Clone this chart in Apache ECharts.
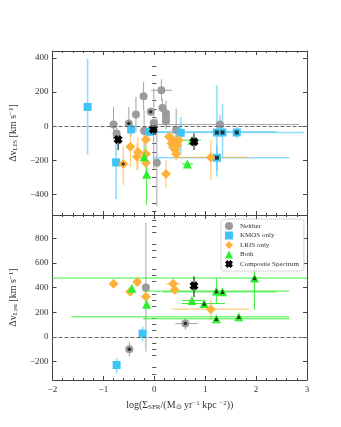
<!DOCTYPE html>
<html>
<head>
<meta charset="utf-8">
<script src="https://cdn.jsdelivr.net/npm/echarts@6/dist/echarts.min.js"></script>
<style>
  html, body { margin: 0; padding: 0; background: #fff; }
  #chart { width: 341px; height: 427px; }
</style>
</head>
<body>
<div id="chart"></div>
<script>
// rows: [x, y, xLow, xHigh, yLow, yHigh, innerMark]
const lisNeither = [
  [-0.80, 10, -0.80, -0.80, -82, 113, 0],
  [-0.74, -43, -0.74, -0.74, -80, -10, 0],
  [-0.50, 16, -0.50, -0.50, -43, 113, 1],
  [-0.36, 68, -0.36, -0.36, -33, 171, 0],
  [-0.21, 175, -0.21, -0.21, 93, 258, 0],
  [-0.20, -27, -0.20, -0.20, -120, 93, 0],
  [-0.07, 84, -0.07, -0.07, 60, 110, 1],
  [-0.01, 19, -0.01, -0.01, -250, 221, 0],
  [0.05, -214, 0.05, 0.05, -470, 45, 0],
  [0.14, 210, -0.06, 0.35, 151, 274, 0],
  [0.16, 107, 0.16, 0.16, 60, 160, 0],
  [0.23, 74, 0.23, 0.23, 20, 150, 0],
  [0.23, 50, 0.23, 0.23, 0, 100, 0],
  [0.23, 29, 0.23, 0.23, -20, 80, 0],
  [0.43, -23, 0.43, 0.43, -120, 103, 0],
  [1.29, 10, 0.0, 2.85, -43, 64, 0]
]
const lisKmos = [
  [-1.31, 113, -1.31, -1.31, -165, 395, 0],
  [-0.75, -212, -0.75, -0.75, -427, -33, 0],
  [-0.455, -19, -0.455, -0.455, -60, 20, 0],
  [-0.10, -33, -0.12, 2.40, -60, -5, 0],
  [0.52, -39, 0.52, 0.52, -159, 54, 0],
  [1.23, -37, -0.05, 2.94, -295, 239, 1],
  [1.34, -37, 1.34, 1.34, -179, 128, 1],
  [1.62, -37, 1.62, 1.62, -70, -5, 1],
  [1.23, -185, -0.03, 2.65, -260, -110, 1]
]
const lisLris = [
  [-0.61, -221, -0.61, -0.61, -344, -120, 1],
  [-0.47, -120, -0.47, -0.47, -237, -4, 0],
  [-0.32, -151, -0.32, -0.32, -250, -60, 0],
  [-0.34, -179, -0.34, -0.34, -260, -100, 0],
  [-0.165, -78, -0.165, -0.165, -180, 0, 0],
  [-0.165, -163, -0.165, -0.165, -230, -100, 0],
  [-0.165, -214, -0.165, -0.165, -280, -150, 0],
  [0.23, -280, 0.23, 0.23, -363, -198, 0],
  [0.29, -62, 0.20, 0.38, -100, -30, 0],
  [0.35, -78, 0.28, 0.42, -120, -40, 0],
  [0.415, -91, 0.35, 0.48, -130, -50, 0],
  [0.34, -101, 0.27, 0.41, -140, -60, 0],
  [0.37, -124, 0.30, 0.44, -160, -90, 0],
  [0.415, -140, 0.35, 0.48, -180, -100, 0],
  [0.45, -111, 0.38, 0.52, -150, -70, 0],
  [0.48, -82, 0.41, 0.55, -120, -40, 0],
  [0.43, -163, 0.36, 0.50, -200, -130, 0],
  [1.11, -183, 0.35, 1.86, -315, -82, 0]
]
const lisBoth = [
  [-0.20, -179, -0.20, -0.20, -230, -120, 0],
  [-0.15, -282, -0.15, -0.15, -460, -150, 0],
  [0.65, -221, 0.54, 0.76, -240, -200, 0],
  [0.74, -82, 0.54, 0.92, -82, -82, 0]
]
const lisComp = [
  [-0.71, -78, -0.71, -0.71, -140, -23, 0],
  [-0.02, -19, -0.10, 0.06, -50, 10, 0],
  [0.78, -91, 0.70, 0.86, -140, -43, 0]
]

const lyaNeither = [
  [-0.165, 402, -0.165, -0.165, -119, 925, 0],
  [-0.49, -100, -0.49, -0.49, -160, -38, 1],
  [0.61, 108, 0.415, 0.856, 57, 152, 1]
]
const lyaKmos = [
  [-0.23, 27, -0.23, -0.23, -38, 84, 0],
  [-0.74, -228, -0.74, -0.74, -296, -174, 0]
]
const lyaLris = [
  [-0.80, 432, -0.80, -0.80, 432, 432, 0],
  [-0.335, 445, -0.335, -0.335, 445, 445, 0],
  [-0.475, 366, -0.475, -0.475, 366, 366, 0],
  [-0.165, 326, -0.165, -0.165, 326, 326, 0],
  [0.37, 432, 0.23, 0.51, 432, 432, 0],
  [0.40, 383, 0.40, 0.40, 383, 383, 0],
  [1.11, 225, 0.35, 1.865, 138, 301, 0]
]
const lyaBoth = [
  [-0.44, 396, -0.44, -0.44, 396, 396, 0],
  [-0.15, 266, -0.15, -0.15, 266, 266, 0],
  [0.74, 296, 0.54, 0.98, 296, 296, 0],
  [0.98, 271, 0.54, 1.39, 271, 271, 1],
  [1.22, 372, -0.22, 2.65, 274, 478, 1],
  [1.34, 366, 0.16, 2.40, 366, 366, 1],
  [1.22, 147, -0.22, 2.65, 147, 147, 1],
  [1.66, 163, -1.63, 2.65, 163, 163, 1],
  [1.97, 478, -3, 4, 220, 600, 1]
]
const lyaComp = [
  [0.78, 415, 0.78, 0.78, 323, 491, 0]
]

const xTicks = [-2, -1, 0, 1, 2, 3]
const lisTicks = [-400, -200, 0, 200, 400]
const lisMinor = [-500, -450, -350, -300, -250, -150, -100, -50, 50, 100, 150, 250, 300, 350]
const lyaTicks = [-200, 0, 200, 400, 600, 800]
const lyaMinor = [-350, -300, -250, -150, -100, -50, 50, 100, 150, 250, 300, 350, 450, 500, 550, 650, 700, 750, 850, 900, 950]

const FONT = 'Liberation Serif'
const AXIS_COLOR = '#444'
const XSHAPE = 'path://M0,3L3,0L5,2L7,0L10,3L8,5L10,7L7,10L5,8L3,10L0,7L2,5Z'

const groups = {
  Neither: { symbol: 'circle', size: 8, color: '#9b9b9b', err: '#a3a3a3', errWidth: 1, inner: 3.5 },
  'KMOS only': { symbol: 'rect', size: 8, color: '#3fc5f5', err: 'rgba(70,200,245,0.6)', errWidth: 1.6, inner: 4 },
  'LRIS only': { symbol: 'diamond', size: 10, color: '#ffb23a', err: 'rgba(255,170,40,0.6)', errWidth: 1.2, inner: 4 },
  Both: { symbol: 'triangle', size: 9, color: '#2ef02e', err: '#3cee3c', errWidth: 1, inner: 4.5 },
  'Composite Spectrum': { symbol: XSHAPE, size: 9, color: '#000', err: '#000', errWidth: 1, inner: 0 }
}

function fmt(v) {
  return v < 0 ? '\u2212' + Math.abs(v) : String(v)
}

function errBars(color, width) {
  return function(params, api) {
    const cs = params.coordSys
    const cx = v => Math.max(cs.x, Math.min(cs.x + cs.width, v))
    const cy = v => Math.max(cs.y, Math.min(cs.y + cs.height, v))
    const p = api.coord([api.value(0), api.value(1)])
    const children = []
    const style = { stroke: color, lineWidth: width, fill: null }
    if (api.value(3) > api.value(2)) {
      const a = api.coord([api.value(2), api.value(1)])
      const b = api.coord([api.value(3), api.value(1)])
      children.push({ type: 'line', shape: { x1: cx(a[0]), y1: p[1], x2: cx(b[0]), y2: p[1] }, style })
    }
    if (api.value(5) > api.value(4)) {
      const c = api.coord([api.value(0), api.value(4)])
      const d = api.coord([api.value(0), api.value(5)])
      children.push({ type: 'line', shape: { x1: p[0], y1: cy(c[1]), x2: p[0], y2: cy(d[1]) }, style })
    }
    return { type: 'group', children }
  }
}

const series = []
function addGroup(name, rows, panel) {
  const g = groups[name]
  const xi = panel * 2
  const yi = panel * 4
  series.push({
    name: name + ' err',
    type: 'custom',
    xAxisIndex: xi,
    yAxisIndex: yi,
    z: 1,
    silent: true,
    renderItem: errBars(g.err, g.errWidth),
    data: rows
  })
  series.push({
    name,
    type: 'scatter',
    xAxisIndex: xi,
    yAxisIndex: yi,
    z: 3,
    symbol: g.symbol,
    symbolSize: g.size,
    itemStyle: { color: g.color, opacity: 1 },
    data: rows.map(r => [r[0], r[1]])
  })
  const flagged = rows.filter(r => r[6] === 1).map(r => [r[0], r[1]])
  if (flagged.length) {
    series.push({
      name: name + ' inner',
      type: 'scatter',
      xAxisIndex: xi,
      yAxisIndex: yi,
      z: 4,
      symbol: g.symbol,
      symbolSize: g.inner,
      itemStyle: { color: '#111' },
      data: flagged
    })
  }
}

addGroup('Neither', lisNeither, 0)
addGroup('KMOS only', lisKmos, 0)
addGroup('LRIS only', lisLris, 0)
addGroup('Both', lisBoth, 0)
addGroup('Composite Spectrum', lisComp, 0)
addGroup('Neither', lyaNeither, 1)
addGroup('KMOS only', lyaKmos, 1)
addGroup('LRIS only', lyaLris, 1)
addGroup('Both', lyaBoth, 1)
addGroup('Composite Spectrum', lyaComp, 1)

// dashed zero lines
;[0, 1].forEach(panel => {
  series.push({
    type: 'line',
    xAxisIndex: panel * 2,
    yAxisIndex: panel * 4,
    data: [],
    z: 2,
    markLine: {
      silent: true,
      symbol: 'none',
      label: { show: false },
      lineStyle: { color: '#666', width: 1, type: [4, 2] },
      data: [{ yAxis: 0 }]
    }
  })
})

const rich = {
  a: { fontFamily: FONT, fontSize: 10, color: '#333' },
  s: { fontFamily: FONT, fontSize: 7, color: '#333', verticalAlign: 'bottom', padding: [4, 0, 0, 0] },
  p: { fontFamily: FONT, fontSize: 7, color: '#333', verticalAlign: 'top', padding: [0, 0, 4, 0] }
}

function xAxes(grid, showLabels) {
  const common = {
    type: 'value',
    gridIndex: grid,
    min: -2,
    max: 3,
    interval: 1,
    splitLine: { show: false },
    axisLine: { show: true, onZero: false, lineStyle: { color: AXIS_COLOR, width: 1 } },
    axisTick: { inside: true, length: 4, lineStyle: { color: AXIS_COLOR } },
    minorTick: { show: true, splitNumber: 5, length: 2, lineStyle: { color: AXIS_COLOR } }
  }
  return [
    Object.assign({}, common, {
      position: 'bottom',
      axisLabel: {
        show: showLabels,
        customValues: xTicks,
        formatter: fmt,
        fontFamily: FONT,
        fontSize: 9,
        color: '#333',
        margin: 5
      },
      name: showLabels ? '{a|log(\u03A3}{s|SFR}{a|/(M}{s|\u2299}{a| yr}{p|\u22121}{a| kpc }{p|\u22122}{a|))}' : '',
      nameLocation: 'middle',
      nameGap: 20,
      nameTextStyle: { rich }
    }),
    Object.assign({}, common, { position: 'top', axisLabel: { show: false } })
  ]
}

function yAxes(grid, min, max, major, minor, name) {
  const line = { show: true, onZero: false, lineStyle: { color: AXIS_COLOR, width: 1 } }
  const base = { type: 'value', gridIndex: grid, min, max, splitLine: { show: false } }
  return [
    Object.assign({}, base, {
      position: 'left',
      axisLine: line,
      axisTick: { inside: true, length: 4, customValues: major, lineStyle: { color: AXIS_COLOR } },
      axisLabel: { customValues: major, formatter: fmt, fontFamily: FONT, fontSize: 9, color: '#333', margin: 4 },
      name,
      nameLocation: 'middle',
      nameRotate: 90,
      nameGap: 24,
      nameTextStyle: { rich }
    }),
    Object.assign({}, base, {
      position: 'left',
      axisLine: { show: false },
      axisTick: { inside: true, length: 2, customValues: minor, lineStyle: { color: AXIS_COLOR } },
      axisLabel: { show: false }
    }),
    Object.assign({}, base, {
      position: 'right',
      axisLine: line,
      axisTick: { inside: true, length: 4, customValues: major, lineStyle: { color: AXIS_COLOR } },
      axisLabel: { show: false }
    }),
    Object.assign({}, base, {
      position: 'right',
      axisLine: { show: false },
      axisTick: { inside: true, length: 2, customValues: minor, lineStyle: { color: AXIS_COLOR } },
      axisLabel: { show: false }
    })
  ]
}

const chart = echarts.init(document.getElementById('chart'), null, { renderer: 'canvas' })
chart.setOption({
  animation: false,
  backgroundColor: '#fff',
  grid: [
    { left: 42, right: 34, top: 51, height: 164 },
    { left: 42, right: 34, top: 215, height: 165 }
  ],
  xAxis: [].concat(xAxes(0, false), xAxes(1, true)),
  yAxis: [].concat(
    yAxes(0, -520, 440, lisTicks, lisMinor, '{a|\u0394v}{s|LIS}{a| [km s}{p|\u22121}{a|]}'),
    yAxes(1, -350, 990, lyaTicks, lyaMinor, '{a|\u0394v}{s|Ly\u03B1}{a| [km s}{p|\u22121}{a|]}')
  ),
  legend: {
    data: ['Neither', 'KMOS only', 'LRIS only', 'Both', 'Composite Spectrum'],
    orient: 'vertical',
    left: 221,
    top: 219,
    itemWidth: 8,
    itemHeight: 8,
    itemGap: 1.5,
    padding: [3, 5, 3, 4],
    backgroundColor: '#fff',
    borderColor: '#ccc',
    borderWidth: 0.8,
    borderRadius: 3,
    textStyle: { fontFamily: FONT, fontSize: 7, color: '#333', padding: [0, 0, 0, 2] }
  },
  series
})
</script>
</body>
</html>
